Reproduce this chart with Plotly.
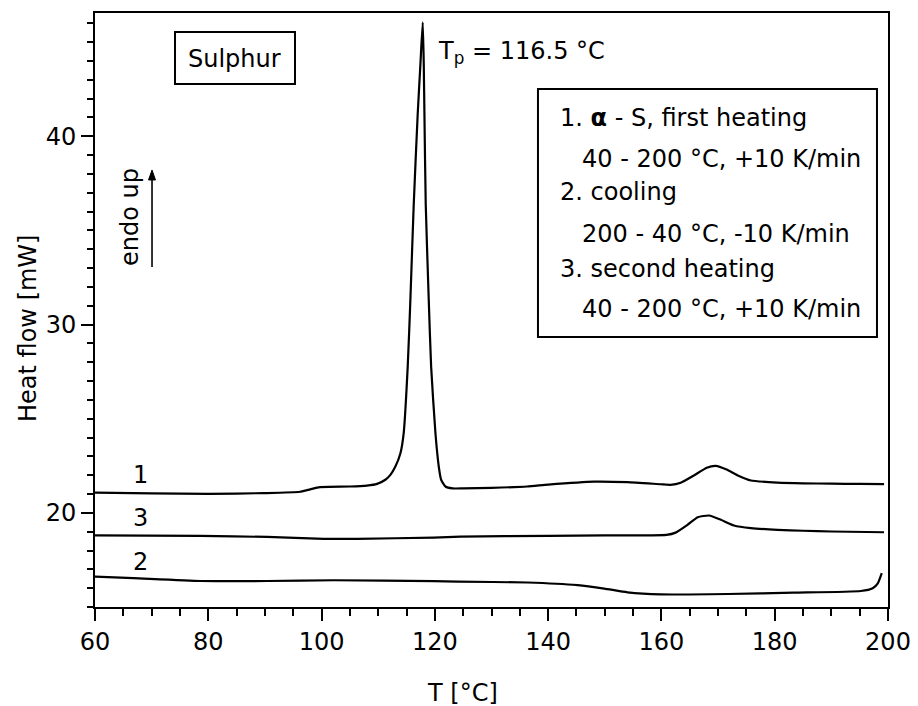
import plotly.graph_objects as go

# ---------------- data ----------------
# Curve 1: alpha-S, first heating
t1 = [60, 70, 80, 90, 96.2, 98, 99.7, 105, 108, 109.8, 111.26, 112.15, 113.03, 113.92,
      114.5, 115.21, 115.68, 116.27, 116.97, 117.45, 117.86, 118.04, 118.16, 118.39,
      118.92, 119.34, 120.1, 120.69, 121.11, 121.87, 123.1, 125, 130, 136.3, 140,
      148.1, 154, 159.9, 161.6, 163.4, 165.8, 168, 169.6, 171.5, 173.4, 175.8, 180.5,
      185, 190, 195, 199.3]
hf1 = [21.08, 21.03, 21.01, 21.05, 21.12, 21.25, 21.37, 21.4, 21.45, 21.54, 21.76,
       22.02, 22.46, 23.17, 24.24, 27.78, 31.33, 36.38, 41.17, 43.83, 46.05, 43.83,
       41.17, 36.38, 31.33, 27.78, 24.24, 22.46, 21.76, 21.4, 21.3, 21.3, 21.33, 21.4,
       21.5, 21.66, 21.63, 21.52, 21.49, 21.6, 22.0, 22.4, 22.5, 22.3, 22.0, 21.72,
       21.61, 21.57, 21.55, 21.54, 21.53]

# Curve 2: cooling
t2 = [60, 66.8, 78.6, 90.4, 102.2, 119.8, 124, 136.3, 145.2, 149.9, 154, 159.9,
      171.7, 183.4, 195.2, 197.3, 198.2, 198.9]
hf2 = [16.61, 16.53, 16.38, 16.38, 16.42, 16.37, 16.35, 16.3, 16.16, 15.98, 15.78,
       15.67, 15.69, 15.76, 15.85, 16.0, 16.26, 16.8]

# Curve 3: second heating
t3 = [60, 78.6, 90.4, 100.4, 106.3, 119.8, 124.5, 140, 150, 160.9, 162.5, 164.6,
      166.4, 168.4, 170.5, 172.8, 175.8, 180.5, 185, 190, 199.3]
hf3 = [18.8, 18.78, 18.72, 18.62, 18.62, 18.69, 18.74, 18.78, 18.8, 18.83, 18.95,
       19.36, 19.77, 19.86, 19.63, 19.33, 19.19, 19.1, 19.05, 19.01, 18.97]

curve_labels = ["1", "2", "3"]
legend_lines = [
    "1. <b>α</b> - S, first heating",
    "40 - 200 °C, +10 K/min",
    "2. cooling",
    "200 - 40 °C, -10 K/min",
    "3. second heating",
    "40 - 200 °C, +10 K/min",
]
x_ticks = [60, 80, 100, 120, 140, 160, 180, 200]
y_ticks = [20, 30, 40]
x_title = "T [°C]"
y_title = "Heat flow [mW]"

FONT = "DejaVu Sans"
FS = 24

fig = go.Figure()
for t, h, name in [(t1, hf1, curve_labels[0]), (t2, hf2, curve_labels[1]), (t3, hf3, curve_labels[2])]:
    fig.add_trace(go.Scatter(x=t, y=h, mode="lines", name=name,
                             line=dict(color="black", width=2.2, shape="spline", smoothing=0.5),
                             showlegend=False))

axis_common = dict(showline=True, linecolor="black", linewidth=2, mirror=True,
                   ticks="outside", tickcolor="black", tickwidth=2, ticklen=12,
                   showgrid=False, zeroline=False, automargin=False,
                   tickfont=dict(family=FONT, size=FS, color="black"))

fig.update_xaxes(range=[60, 200], tickvals=x_ticks,
                 minor=dict(dtick=5, tick0=60, ticks="outside", ticklen=7, tickcolor="black", tickwidth=2),
                 **axis_common)
fig.update_yaxes(range=[15, 46.55], tickvals=y_ticks,
                 minor=dict(dtick=1, tick0=15, ticks="outside", ticklen=6, tickcolor="black", tickwidth=2),
                 **axis_common)

ann = []
def txt(x, y, s, xanchor="center", yanchor="middle", **kw):
    ann.append(dict(x=x, y=y, xref="paper", yref="paper", text=s, showarrow=False,
                    xanchor=xanchor, yanchor=yanchor,
                    font=dict(family=FONT, size=FS, color="black"), **kw))

# axis titles
txt(0.464, -0.1448, x_title)
txt(-0.0845, 0.4697, y_title, textangle=-90)
# Sulphur label
txt(0.1765, 0.9226, "Sulphur")
# Tp label
txt(0.430, 0.9330, "T<sub>p</sub> = 116.5 °C", xanchor="left")
# endo up
txt(0.0441, 0.6566, "endo up", textangle=-90)
# curve numbers
txt(0.058, 0.2222, curve_labels[0])
txt(0.058, 0.0758, curve_labels[1])
txt(0.058, 0.1498, curve_labels[2])
# legend text lines
leg_y = [0.8232, 0.7547, 0.6987, 0.6279, 0.5695, 0.5022]
leg_x = [0.5839, 0.6116, 0.5839, 0.6116, 0.5839, 0.6116]
for s, xx, yy in zip(legend_lines, leg_x, leg_y):
    txt(xx, yy, s, xanchor="left")

shapes = [
    dict(type="rect", xref="paper", yref="paper", x0=0.1009, x1=0.2522, y0=0.8805, y1=0.968,
         line=dict(color="black", width=2)),
    dict(type="rect", xref="paper", yref="paper", x0=0.5586, x1=0.9861, y0=0.4545, y1=0.8721,
         line=dict(color="black", width=2)),
    # "endo up" arrow shaft and head
    dict(type="line", xref="paper", yref="paper", x0=0.0719, x1=0.0719, y0=0.5724, y1=0.722,
         line=dict(color="black", width=1.6)),
    dict(type="path", xref="paper", yref="paper",
         path="M 0.0675,0.7189 L 0.0719,0.7357 L 0.0763,0.7189 Z",
         fillcolor="black", line=dict(color="black", width=1)),
]

fig.update_layout(
    width=918, height=706,
    margin=dict(l=95, r=30, t=13, b=99),
    paper_bgcolor="white", plot_bgcolor="white",
    font=dict(family=FONT, size=FS, color="black"),
    annotations=ann,
    shapes=shapes,
)

fig.write_html("out.html")
